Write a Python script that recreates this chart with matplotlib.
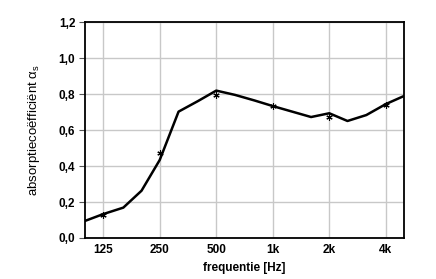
import matplotlib
matplotlib.use("Agg")
import matplotlib.pyplot as plt

plt.rcParams['font.family'] = ['Liberation Sans', 'DejaVu Sans']

# third-octave curve
freqs = [100, 125, 160, 200, 250, 315, 400, 500, 630, 800, 1000, 1250, 1600, 2000, 2500, 3150, 4000, 5000]
alpha = [0.095, 0.133, 0.169, 0.263, 0.434, 0.703, 0.762, 0.820, 0.796, 0.765, 0.734, 0.705, 0.673, 0.694, 0.651, 0.684, 0.745, 0.790]

# octave-band measured points
oct_freqs = [125, 250, 500, 1000, 2000, 4000]
oct_alpha = [0.130, 0.471, 0.797, 0.734, 0.671, 0.740]

xtick_vals = [125, 250, 500, 1000, 2000, 4000]
xtick_labels = ['125', '250', '500', '1k', '2k', '4k']
ytick_vals = [0.0, 0.2, 0.4, 0.6, 0.8, 1.0, 1.2]
ytick_labels = ['0,0', '0,2', '0,4', '0,6', '0,8', '1,0', '1,2']

fig = plt.figure(figsize=(4.36, 2.79), dpi=100)
ax = fig.add_axes([85/436, 1-238/279, (404-85)/436, (238-22.3)/279])

ax.set_xscale('log')
ax.set_xlim(100, 5000)
ax.set_ylim(0, 1.2)

ax.plot(freqs, alpha, color='black', linewidth=1.8, zorder=3)
ax.plot(oct_freqs, oct_alpha, linestyle='none', marker=(6, 2, 0), markersize=4.5,
        markeredgewidth=0.8, color='black', zorder=4)

ax.set_xticks(xtick_vals)
ax.set_xticklabels(xtick_labels, fontsize=8.5, fontweight='bold')
ax.minorticks_off()
ax.set_yticks(ytick_vals)
ax.set_yticklabels(ytick_labels, fontsize=8.5, fontweight='bold')

ax.tick_params(axis='x', length=0, pad=4)
ax.tick_params(axis='y', length=4, width=0.8, color='#555555', pad=3)

ax.grid(True, color='#c8c8c8', linewidth=1.0, zorder=0)
ax.set_axisbelow(True)
for sp in ax.spines.values():
    sp.set_linewidth(1.3)
    sp.set_color('black')

ax.set_xlabel('frequentie [Hz]', fontsize=8.5, fontweight='bold', labelpad=5)
ax.set_ylabel('absorptiecoëfficiënt α$_\\mathregular{s}$', fontsize=9.5, labelpad=12)

fig.savefig('out.png', dpi=100)
